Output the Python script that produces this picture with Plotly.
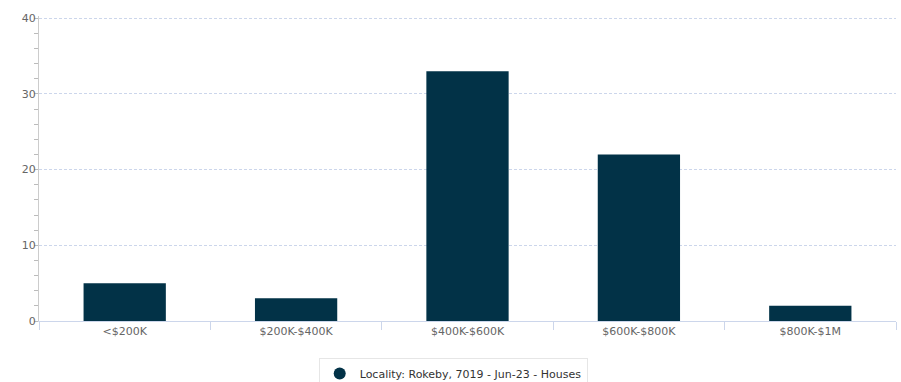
import plotly.graph_objects as go

categories = ["<$200K", "$200K-$400K", "$400K-$600K", "$600K-$800K", "$800K-$1M"]
counts = [5, 3, 33, 22, 2]
series_name = "Locality: Rokeby, 7019 - Jun-23 - Houses"

bar_color = "#023247"

fig = go.Figure()
fig.add_trace(go.Bar(x=categories, y=counts, marker=dict(color=bar_color, line=dict(width=0)),
                     width=0.48, showlegend=False, name=series_name))
# legend entry with a round marker, like the original
fig.add_trace(go.Scatter(x=[None], y=[None], mode="markers", name=series_name,
                         marker=dict(symbol="circle", size=12, color=bar_color)))

fig.update_layout(
    width=901, height=382,
    margin=dict(l=39, r=5, t=16, b=61, autoexpand=False),
    plot_bgcolor="white", paper_bgcolor="white",
    font=dict(family="DejaVu Sans", size=11, color="#666666"),
    legend=dict(orientation="h", xref="container", yref="container", x=0.503, xanchor="center",
                y=0.063, yanchor="top", bordercolor="#e6e6e6", borderwidth=1,
                font=dict(size=11, color="#333333"), itemwidth=30),
)
fig.update_xaxes(
    tickson="boundaries", ticks="outside", ticklen=8, tickcolor="#ccd6eb",
    showline=True, linecolor="#ccd6eb", showgrid=False,
    tickfont=dict(size=11, color="#666666"),
)
fig.update_yaxes(
    range=[0, 40.3], tickvals=[0, 10, 20, 30, 40], showline=True, linecolor="#cccccc",
    showgrid=True, gridcolor="#ccd6eb", griddash="3px,2px", zeroline=False,
    ticks="", tickfont=dict(size=11, color="#666666"),
    minor=dict(tick0=0, dtick=2, ticks="outside", ticklen=4, tickcolor="#bbbbbb", showgrid=False),
)

# drop the page's default body margin so the chart sits at the window's corner
fig.write_html("out.html", config={"displayModeBar": False},
               post_script="document.body.style.margin='0';")
